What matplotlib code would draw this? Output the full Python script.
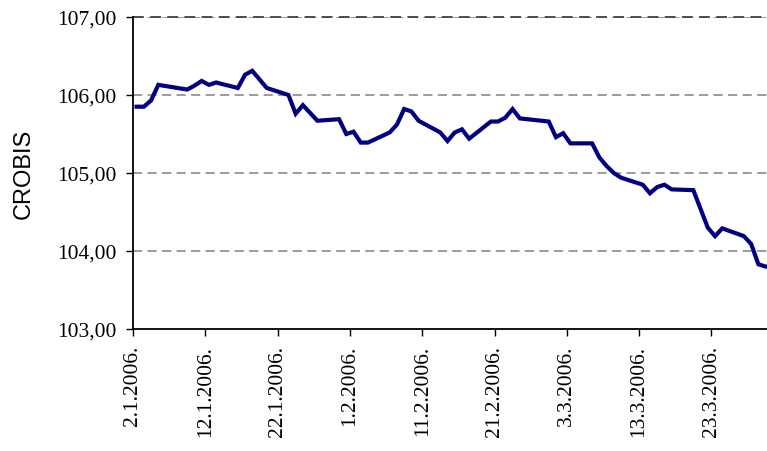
import pandas as pd
import matplotlib.pyplot as plt

# CROBIS index, trading days Jan - Mar 2006
dates = ["2.1.2006", "3.1.2006", "4.1.2006", "5.1.2006", "9.1.2006", "10.1.2006",
         "11.1.2006", "12.1.2006", "13.1.2006", "16.1.2006", "17.1.2006", "18.1.2006",
         "19.1.2006", "20.1.2006", "23.1.2006", "24.1.2006", "25.1.2006", "26.1.2006",
         "27.1.2006", "30.1.2006", "31.1.2006", "1.2.2006", "2.2.2006", "3.2.2006",
         "6.2.2006", "7.2.2006", "8.2.2006", "9.2.2006", "10.2.2006", "13.2.2006",
         "14.2.2006", "15.2.2006", "16.2.2006", "17.2.2006", "20.2.2006", "21.2.2006",
         "22.2.2006", "23.2.2006", "24.2.2006", "27.2.2006", "28.2.2006", "1.3.2006",
         "2.3.2006", "3.3.2006", "6.3.2006", "7.3.2006", "8.3.2006", "9.3.2006",
         "10.3.2006", "13.3.2006", "14.3.2006", "15.3.2006", "16.3.2006", "17.3.2006",
         "20.3.2006", "21.3.2006", "22.3.2006", "23.3.2006", "24.3.2006", "27.3.2006",
         "28.3.2006", "29.3.2006", "30.3.2006", "31.3.2006"]
crobis = [105.85, 105.85, 105.93, 106.13, 106.07, 106.12,
          106.18, 106.13, 106.16, 106.09, 106.26, 106.31,
          106.20, 106.09, 106.00, 105.76, 105.87, 105.77,
          105.67, 105.69, 105.50, 105.53, 105.39, 105.39,
          105.52, 105.62, 105.82, 105.79, 105.67, 105.52,
          105.41, 105.52, 105.56, 105.44, 105.66, 105.66,
          105.71, 105.82, 105.70, 105.67, 105.66, 105.46,
          105.51, 105.38, 105.38, 105.20, 105.09, 105.00,
          104.94, 104.85, 104.74, 104.82, 104.85, 104.79,
          104.78, 104.54, 104.30, 104.19, 104.29, 104.19,
          104.09, 103.83, 103.80, 103.80]
tick_labels = ["2.1.2006.", "12.1.2006.", "22.1.2006.", "1.2.2006.", "11.2.2006.",
               "21.2.2006.", "3.3.2006.", "13.3.2006.", "23.3.2006."]
y_ticks = [103, 104, 105, 106, 107]

start = pd.to_datetime("2.1.2006", format="%d.%m.%Y")
days = [(pd.to_datetime(d, format="%d.%m.%Y") - start).days + 0.5 for d in dates]
tick_pos = [(pd.to_datetime(t, format="%d.%m.%Y.") - start).days for t in tick_labels]

serif = ["Liberation Serif", "DejaVu Serif"]
fig = plt.figure(figsize=(7.67, 4.52), dpi=100)
ax = fig.add_axes([133 / 767, 1 - 330 / 452, 1 - 133 / 767, 312 / 452])

for v in y_ticks[1:]:
    ax.axhline(v, color="#808080", lw=1.1, ls=(0, (6, 3.5)), zorder=1)
ax.axhline(107, color="#404040", lw=1.3, ls=(0, (6, 3.5)), zorder=1, clip_on=False)

ax.plot(days, crobis, color="#000080", lw=3, solid_joinstyle="miter", zorder=3)

ax.set_xlim(0, 87.69)
ax.set_ylim(103, 107)
ax.set_xticks(tick_pos)
ax.set_xticklabels(tick_labels, rotation=90, family=serif, fontsize=15.5)
ax.set_yticks(y_ticks)
ax.set_yticklabels([f"{v:.2f}".replace(".", ",") for v in y_ticks], family=serif, fontsize=15.5)
ax.tick_params(axis="y", direction="out", length=5, width=1, pad=7)
ax.tick_params(axis="x", direction="out", length=5, width=1, pad=6.5)

for s in ["top", "right"]:
    ax.spines[s].set_visible(False)
for s in ["left", "bottom"]:
    ax.spines[s].set_linewidth(1.3)

fig.text(24 / 767, 1 - 174 / 452, "CROBIS", rotation=90, ha="center", va="center",
         family=["Liberation Sans", "DejaVu Sans"], fontsize=17)

fig.savefig("out.png", dpi=100)
